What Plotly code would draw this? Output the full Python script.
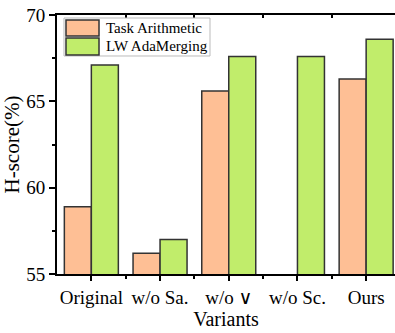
import plotly.graph_objects as go

# Ablation results: H-score (%) per variant
variants = ["Original", "w/o Sa.", "w/o \u2228", "w/o Sc.", "Ours"]
task_arithmetic = [58.9, 56.2, 65.6, None, 66.3]
lw_adamerging = [67.1, 57.0, 67.6, 67.6, 68.6]
series_names = ["Task Arithmetic", "LW AdaMerging"]
y_ticks = [55, 60, 65, 70]

ORANGE = "#FEBF95"
GREEN = "#C1ED6B"
EDGE = "#333333"
FONT = "Times New Roman, Liberation Serif, serif"

xs = list(range(len(variants)))
# the logical-or sign is missing from Liberation Serif; pick a thin serif glyph
tick_text = [v.replace("\u2228", "<span style='font-family:DejaVu Serif;font-weight:200'>\u2228</span>")
             for v in variants]

fig = go.Figure()
fig.add_trace(go.Bar(x=xs, y=task_arithmetic, name=series_names[0],
                     marker=dict(color=ORANGE, line=dict(color=EDGE, width=1.5)),
                     showlegend=False))
fig.add_trace(go.Bar(x=xs, y=lw_adamerging, name=series_names[1],
                     marker=dict(color=GREEN, line=dict(color=EDGE, width=1.5)),
                     showlegend=False))
# empty trace so the top axis (boundary ticks) is drawn
fig.add_trace(go.Scatter(x=[], y=[], xaxis="x2", showlegend=False))

x_range = [-0.5, 4.42]
boundaries = [i + 0.5 for i in range(len(variants) - 1)]

fig.update_layout(
    width=395, height=333,
    margin=dict(l=57, r=0, t=15, b=59),
    paper_bgcolor="white", plot_bgcolor="white",
    barmode="group", bargap=0.214, bargroupgap=0,
    font=dict(family=FONT, color="black"),
    xaxis=dict(
        range=x_range, tickvals=xs, ticktext=tick_text,
        showgrid=False, zeroline=False,
        showline=True, linecolor="black", linewidth=2,
        ticks="outside", ticklen=5, tickwidth=1.5, tickcolor="black",
        minor=dict(tickvals=boundaries, ticks="outside", ticklen=3,
                   tickwidth=1.5, tickcolor="black", showgrid=False),
        tickfont=dict(size=19, family=FONT),
        title=dict(text="Variants", font=dict(size=20, family=FONT), standoff=4),
    ),
    xaxis2=dict(
        range=x_range, overlaying="x", side="top", anchor="y",
        showgrid=False, zeroline=False,
        showline=True, linecolor="black", linewidth=2,
        tickvals=boundaries, ticks="inside", ticklen=3, tickwidth=1.5,
        tickcolor="black", showticklabels=False,
    ),
    yaxis=dict(
        range=[55, 70], tickvals=y_ticks,
        showgrid=False, zeroline=False,
        showline=True, linecolor="black", linewidth=2,
        ticks="outside", ticklen=6, tickwidth=1.5, tickcolor="black",
        minor=dict(dtick=2.5, tick0=55, ticks="outside", ticklen=3,
                   tickwidth=1.5, tickcolor="black", showgrid=False),
        tickfont=dict(size=19, family=FONT),
        title=dict(text="H-score(%)", font=dict(size=21, family=FONT), standoff=4),
    ),
)

# Legend box drawn in paper coordinates
fig.add_shape(type="rect", xref="paper", yref="paper",
              x0=0.0207, x1=0.4527, y0=0.8417, y1=0.9884,
              line=dict(color="#BBBBBB", width=1), fillcolor="white")
swatches = [(ORANGE, 0.9189, 0.9807), (GREEN, 0.8456, 0.9112)]
for (color, y0, y1), label in zip(swatches, series_names):
    fig.add_shape(type="rect", xref="paper", yref="paper",
                  x0=0.0266, x1=0.1243, y0=y0, y1=y1,
                  line=dict(color=EDGE, width=1.5), fillcolor=color)
    fig.add_annotation(xref="paper", yref="paper", x=0.138, y=(y0 + y1) / 2,
                       text=label, showarrow=False, xanchor="left", yanchor="middle",
                       font=dict(size=15, family=FONT, color="black"))

fig.write_html("out.html")
